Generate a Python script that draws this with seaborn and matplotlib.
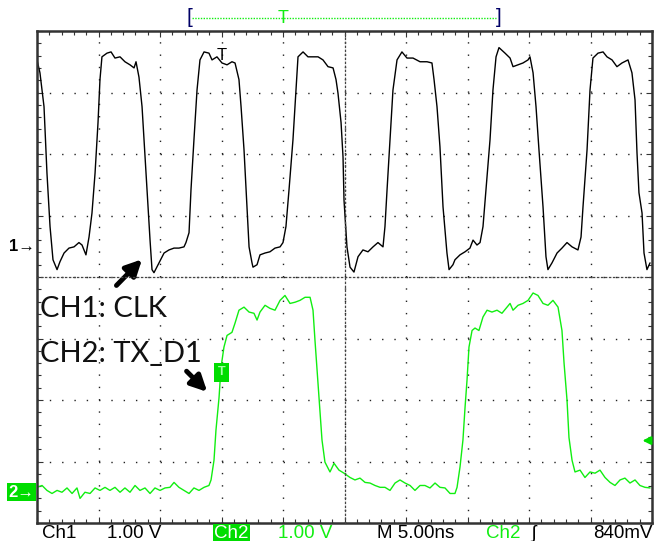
import pandas as pd
import matplotlib
matplotlib.use('Agg')
import matplotlib.pyplot as plt
from matplotlib.ticker import MultipleLocator
import seaborn as sns

# Scope settings
ns_per_div = 5.0
volts_per_div = 1.0
ch1_ground = 0.49    # divisions above screen centre
ch2_ground = -3.5
trig_level = 0.84    # V on CH2
trig_time = 15.0     # ns

# CH1: CLK (time in ns, volts above its ground)
ch1_t = [0.00, 0.24, 0.57, 0.81, 1.06, 1.30, 1.63, 1.87, 2.20, 2.60,
         3.01, 3.41, 3.66, 3.98, 4.23, 4.47, 4.72, 4.96, 5.12, 5.28,
         5.69, 6.02, 6.34, 6.75, 7.15, 7.56, 7.89, 8.05, 8.29, 8.54,
         8.70, 8.94, 9.19, 9.35, 9.51, 9.92, 10.33, 10.73, 11.14, 11.54,
         11.95, 12.11, 12.36, 12.52, 12.76, 13.01, 13.25, 13.58, 13.98, 14.23,
         14.63, 15.04, 15.45, 15.85, 16.10, 16.42, 16.59, 16.83, 17.07, 17.24,
         17.48, 17.56, 17.89, 18.13, 18.54, 18.94, 19.35, 19.76, 20.00, 20.24,
         20.49, 20.81, 21.06, 21.22, 21.63, 22.03, 22.44, 22.85, 23.25, 23.66,
         24.07, 24.31, 24.47, 24.72, 24.88, 24.96, 25.20, 25.45, 25.77, 26.10,
         26.50, 26.91, 27.32, 27.72, 28.13, 28.29, 28.46, 28.70, 28.94, 29.27,
         29.67, 30.08, 30.57, 31.14, 31.71, 32.11, 32.28, 32.52, 32.76, 33.01,
         33.33, 33.50, 33.82, 33.98, 34.39, 34.80, 35.20, 35.45, 35.77, 36.02,
         36.26, 36.50, 36.83, 37.07, 37.32, 37.56, 38.05, 38.46, 38.70, 39.11,
         39.51, 39.92, 40.08, 40.33, 40.57, 40.81, 41.14, 41.38, 41.54, 41.87,
         42.28, 42.68, 43.09, 43.50, 43.98, 44.23, 44.39, 44.72, 44.96, 45.20,
         45.61, 46.02, 46.34, 46.75, 47.15, 47.56, 48.05, 48.37, 48.62, 48.78,
         48.94, 49.19, 49.35, 49.59, 49.84]
ch1_v = [3.04, 2.83, 2.28, 1.20, 0.33, -0.21, -0.37, -0.24, -0.10, -0.02,
         0.00, 0.07, 0.03, -0.13, 0.16, 0.55, 1.20, 2.02, 2.72, 3.09,
         3.15, 3.17, 3.07, 3.09, 3.01, 2.96, 2.91, 3.01, 2.76, 2.28,
         1.74, 0.93, 0.11, -0.37, -0.42, -0.26, -0.10, -0.05, -0.02, -0.02,
         0.00, 0.07, 0.23, 0.93, 1.74, 2.55, 3.04, 3.17, 3.15, 3.04,
         3.09, 2.99, 2.96, 3.01, 2.99, 2.72, 2.28, 1.58, 0.65, 0.00,
         -0.26, -0.33, -0.29, -0.13, -0.10, -0.08, -0.02, 0.00, 0.07, 0.33,
         0.93, 1.74, 2.55, 3.09, 3.17, 3.09, 3.09, 3.09, 3.04, 2.93,
         2.91, 2.72, 2.50, 2.02, 1.46, 0.76, 0.00, -0.33, -0.41, -0.16,
         -0.05, -0.08, 0.00, 0.07, 0.00, 0.33, 0.93, 1.74, 2.55, 3.04,
         3.17, 3.07, 3.07, 3.01, 3.01, 2.99, 2.72, 2.28, 1.63, 0.65,
         -0.10, -0.37, -0.29, -0.21, -0.13, -0.08, -0.02, 0.11, 0.03, 0.07,
         0.33, 0.93, 1.74, 2.55, 3.09, 3.24, 3.15, 3.07, 2.93, 2.96,
         2.99, 3.04, 3.09, 2.83, 2.28, 1.58, 0.65, -0.16, -0.37, -0.26,
         -0.10, -0.02, 0.07, 0.00, -0.05, 0.16, 0.65, 1.58, 2.55, 3.07,
         3.15, 3.17, 3.09, 3.04, 2.93, 2.99, 3.04, 2.83, 2.39, 1.53,
         0.88, 0.55, -0.10, -0.37, -0.26]

# CH2: TX_D1
ch2_t = [0.00, 0.41, 0.81, 1.22, 1.63, 2.03, 2.44, 2.85, 3.25, 3.50,
         3.90, 4.31, 4.72, 5.12, 5.53, 5.93, 6.34, 6.75, 7.15, 7.56,
         7.97, 8.37, 8.78, 9.19, 9.59, 10.00, 10.41, 10.81, 11.14, 11.54,
         11.95, 12.36, 12.76, 13.17, 13.58, 13.98, 14.15, 14.39, 14.55, 14.80,
         14.96, 15.20, 15.45, 15.85, 16.10, 16.42, 16.83, 17.24, 17.64, 17.89,
         18.13, 18.54, 18.94, 19.35, 19.76, 20.16, 20.57, 20.98, 21.38, 21.79,
         22.20, 22.44, 22.60, 22.93, 23.17, 23.41, 23.82, 24.15, 24.55, 24.96,
         25.45, 25.85, 26.26, 26.67, 27.07, 27.48, 27.89, 28.29, 28.70, 29.11,
         29.51, 29.92, 30.33, 30.73, 31.14, 31.54, 31.95, 32.36, 32.76, 33.17,
         33.58, 33.98, 34.15, 34.39, 34.63, 34.80, 34.96, 35.12, 35.37, 35.61,
         35.93, 36.26, 36.59, 36.99, 37.40, 37.80, 38.21, 38.46, 38.70, 39.11,
         39.51, 39.92, 40.33, 40.73, 41.14, 41.54, 41.95, 42.36, 42.68, 42.85,
         43.09, 43.25, 43.50, 43.74, 44.15, 44.55, 44.96, 45.37, 45.77, 46.18,
         46.59, 46.99, 47.40, 47.80, 48.21, 48.62, 49.02, 49.43, 49.84]
ch2_v = [0.08, 0.11, 0.03, -0.02, 0.03, 0.00, 0.07, -0.02, 0.07, -0.10,
         0.00, -0.02, 0.07, 0.03, 0.08, 0.03, 0.08, 0.00, 0.07, 0.00,
         0.11, 0.03, 0.07, -0.02, 0.07, 0.03, 0.07, 0.08, 0.16, 0.08,
         0.03, -0.02, 0.07, 0.03, 0.08, 0.11, 0.20, 0.52, 1.01, 1.54,
         2.03, 2.36, 2.55, 2.60, 2.75, 2.96, 3.01, 2.93, 2.91, 2.80,
         2.93, 3.04, 2.99, 2.96, 3.12, 3.20, 3.07, 3.09, 3.12, 3.17,
         3.17, 2.96, 2.47, 1.54, 0.85, 0.49, 0.33, 0.47, 0.36, 0.31,
         0.24, 0.20, 0.23, 0.16, 0.15, 0.11, 0.08, 0.08, 0.03, 0.15,
         0.20, 0.15, 0.11, 0.03, 0.11, 0.11, 0.07, 0.15, 0.08, 0.07,
         -0.02, -0.02, 0.08, 0.41, 0.85, 1.38, 1.82, 2.36, 2.63, 2.67,
         2.63, 2.85, 2.96, 2.93, 2.96, 2.91, 3.01, 3.07, 2.96, 3.04,
         3.07, 3.12, 3.24, 3.20, 3.07, 3.04, 3.12, 3.01, 2.63, 2.10,
         1.50, 0.89, 0.52, 0.33, 0.36, 0.24, 0.33, 0.31, 0.36, 0.24,
         0.16, 0.11, 0.20, 0.23, 0.15, 0.20, 0.11, 0.08, 0.07]

# Status line at the bottom
status_labels = ['Ch1', '1.00 V', 'Ch2', '1.00 V', 'M 5.00ns', 'Ch2', '\u0283', '840mV']

green = '#11ee11'

df1 = pd.DataFrame({'t': ch1_t, 'v': ch1_v})
df1['y'] = df1['v'] / volts_per_div + ch1_ground
df2 = pd.DataFrame({'t': ch2_t, 'v': ch2_v})
df2['y'] = df2['v'] / volts_per_div + ch2_ground

sns.set_style('white')
plt.rcParams['font.family'] = ['Liberation Sans', 'DejaVu Sans']

fig = plt.figure(figsize=(6.54, 5.41), dpi=100)
ax = fig.add_axes([37 / 654, 18 / 541, 615 / 654, 492 / 541])

sns.lineplot(data=df1, x='t', y='y', ax=ax, color='black', lw=1.0,
             sort=False, estimator=None)
sns.lineplot(data=df2, x='t', y='y', ax=ax, color=green, lw=1.0,
             sort=False, estimator=None)

ax.set_xlim(0, 10 * ns_per_div)
ax.set_ylim(-4, 4)
ax.set_xlabel('')
ax.set_ylabel('')

# Graticule: dotted divisions, small ticks every 0.2 div on the border
ax.xaxis.set_major_locator(MultipleLocator(ns_per_div))
ax.xaxis.set_minor_locator(MultipleLocator(ns_per_div / 5))
ax.yaxis.set_major_locator(MultipleLocator(1))
ax.yaxis.set_minor_locator(MultipleLocator(0.2))
ax.tick_params(which='both', direction='in', top=True, right=True,
               bottom=True, left=True, labelbottom=False, labelleft=False,
               color='#333333')
ax.tick_params(which='major', length=4, width=0.8)
ax.tick_params(which='minor', length=3, width=0.8)
ax.grid(True, which='major', color='#222222', lw=1.0, linestyle=(0, (1, 7.86)))
for s in ax.spines.values():
    s.set_color('#333333')
    s.set_linewidth(1.8)

# Centre cross with its own tick marks
ax2 = fig.add_axes(ax.get_position(), sharex=ax, sharey=ax)
ax2.patch.set_visible(False)
ax2.spines['top'].set_visible(False)
ax2.spines['right'].set_visible(False)
ax2.spines['left'].set_position(('data', 5 * ns_per_div))
ax2.spines['bottom'].set_position(('data', 0))
for s in ['left', 'bottom']:
    ax2.spines[s].set_linestyle((0, (1, 2.2)))
    ax2.spines[s].set_linewidth(0.9)
    ax2.spines[s].set_color('#444444')
ax2.tick_params(which='both', direction='inout', length=5, width=0.8,
                labelbottom=False, labelleft=False, color='#444444',
                top=False, right=False)

# Channel ground markers
ax.text(-0.004, ch1_ground, '1\u2192', transform=ax.get_yaxis_transform(),
        ha='right', va='center', fontsize=12, color='black', fontweight='bold')
ax.text(-0.004, ch2_ground, '2\u2192', transform=ax.get_yaxis_transform(),
        ha='right', va='center', fontsize=12, color='white', fontweight='bold',
        bbox=dict(boxstyle='square,pad=0.1', fc='#00dd00', ec='none'))

# Trigger level arrow on the right edge
lvl = trig_level / volts_per_div + ch2_ground
ax.annotate('', xy=(10 * ns_per_div - 1.0, lvl), xytext=(10 * ns_per_div, lvl),
            arrowprops=dict(arrowstyle='-|>', color='#00dd00', lw=1.5,
                            mutation_scale=12))

# Trigger markers on the traces
ax.text(trig_time, 3.72, 'T', ha='center', va='top', fontsize=12, color='black')
ax.text(trig_time, -1.55, 'T', ha='center', va='center', fontsize=9,
        color='#aaffaa', fontweight='bold',
        bbox=dict(boxstyle='square,pad=0.3', fc='#00dd00', ec='none'))

# Record window bracket above the screen
top = ax.get_xaxis_transform()
ax.text(12.4, 1.027, '[', transform=top, ha='center', va='center',
        fontsize=15, color='#000066', clip_on=False)
ax.text(37.5, 1.027, ']', transform=top, ha='center', va='center',
        fontsize=15, color='#000066', clip_on=False)
ax.plot([12.6, 37.3], [1.026, 1.026], transform=top, color=green, lw=1,
        linestyle=(0, (1, 1)), clip_on=False)
ax.text(20.0, 1.026, 'T', transform=top, ha='center', va='center',
        fontsize=13, color=green, clip_on=False)

# Signal labels with arrows
lab_font = ['Lato', 'DejaVu Sans']
ax.text(0.25, -0.65, 'CH1: CLK', fontsize=21, family=lab_font,
        color='#111111', va='baseline')
ax.text(0.25, -1.38, 'CH2: TX_D1', fontsize=21, family=lab_font,
        color='#111111', va='baseline')
ax.annotate('', xy=(8.7, 0.32), xytext=(6.3, -0.17),
            arrowprops=dict(arrowstyle='-|>', color='black', lw=3.5,
                            mutation_scale=24))
ax.annotate('', xy=(14.0, -1.90), xytext=(12.0, -1.50),
            arrowprops=dict(arrowstyle='-|>', color='black', lw=3.5,
                            mutation_scale=24))

# Status line
status_x = [42, 107, 214, 278, 377, 486, 531, 593]
status_col = ['black', 'black', 'white', green, 'black', green, 'black', 'black']
for lbl, x, c in zip(status_labels, status_x, status_col):
    kw = {}
    if lbl == 'Ch2' and c == 'white':
        kw['bbox'] = dict(boxstyle='square,pad=0.08', fc='#00dd00', ec='none')
    fig.text(x / 654, 3 / 541, lbl, fontsize=13.5, color=c, ha='left',
             va='baseline', family=['Liberation Sans', 'DejaVu Sans'], **kw)

fig.savefig('out.png', dpi=100)
